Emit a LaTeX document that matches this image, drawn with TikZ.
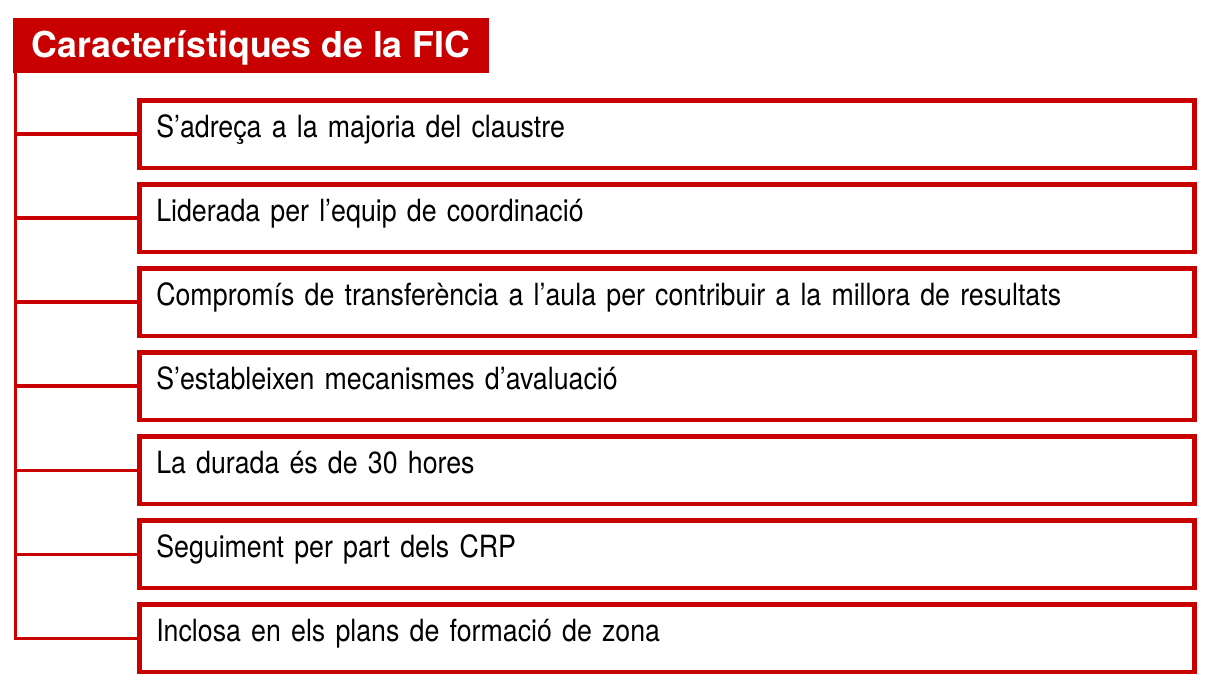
\documentclass[tikz,border=0pt]{standalone}
\usepackage{fontspec}
\setmainfont{TeX Gyre Heros}
\newfontfamily\itemfont[FakeStretch=0.875]{TeX Gyre Heros}
\usetikzlibrary{positioning}
\definecolor{ficRed}{RGB}{200,0,0}

\begin{document}
\begin{tikzpicture}[
  node distance=0.24cm,
  titleBox/.style={fill=ficRed, text=white, font=\fontsize{20.3}{24}\selectfont\bfseries,
    minimum width=9.52cm, minimum height=1.1cm, inner sep=0pt, text height=0.5cm, text depth=0pt},
  itemBox/.style={draw=ficRed, line width=2.6pt, minimum width=21.1cm, minimum height=1.35cm,
    text width=20.42cm, align=left, inner xsep=0.34cm, inner ysep=0pt,
    text height=0.6cm, text depth=0.48cm, font=\itemfont\fontsize{17.4}{21}\selectfont},
  branch/.style={draw=ficRed, line width=2pt}
]
  \useasboundingbox (0,0) rectangle (24.38,-14);

  % Title
  \node[titleBox] (title) at (5.02,-0.91) {Característiques de la FIC};
  \coordinate (trunk) at (0.31,-1.46);

  % Items
  \node[itemBox, anchor=north west] (b1) at (2.74,-1.96) {S’adreça a la majoria del claustre};
  \node[itemBox, below=of b1] (b2) {Liderada per l’equip de coordinació};
  \node[itemBox, below=of b2] (b3) {Compromís de transferència a l’aula per contribuir a la millora de resultats};
  \node[itemBox, below=of b3] (b4) {S’estableixen mecanismes d’avaluació};
  \node[itemBox, below=of b4] (b5) {La durada és de 30 hores};
  \node[itemBox, below=of b5] (b6) {Seguiment per part dels CRP};
  \node[itemBox, below=of b6] (b7) {Inclosa en els plans de formació de zona};

  % Connectors
  \draw[branch] (trunk) |- (b7.west);
  \foreach \i in {1,...,6}
    \draw[branch] (trunk |- b\i.west) -- (b\i.west);
\end{tikzpicture}
\end{document}
